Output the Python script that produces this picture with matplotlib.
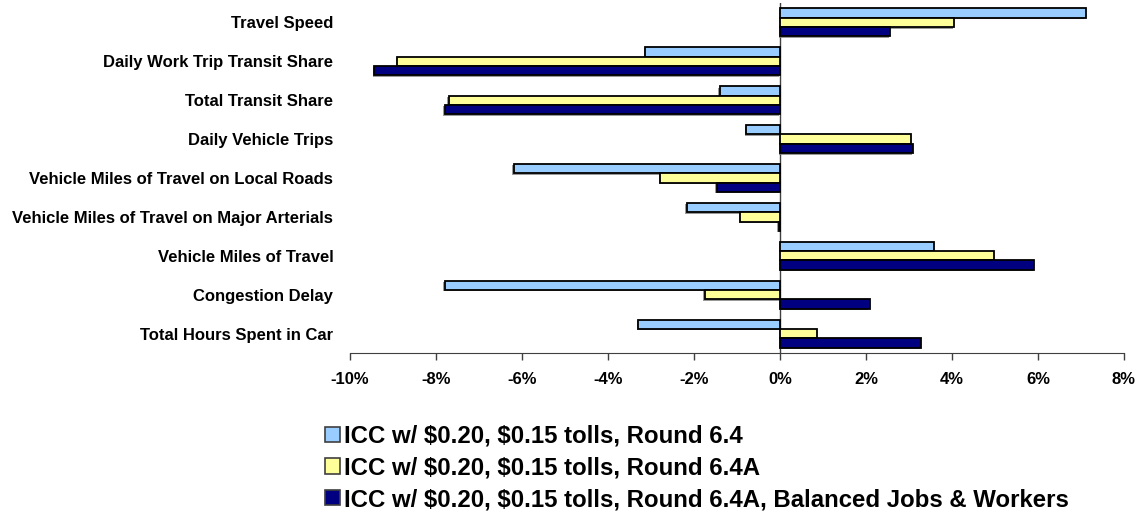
import numpy as np
import matplotlib.pyplot as plt
from matplotlib.patches import Patch
import matplotlib.patheffects as pe

plt.rcParams['font.family'] = ['Liberation Sans', 'DejaVu Sans']

# ----- data (percent change) -----
categories = [
    "Travel Speed",
    "Daily Work Trip Transit Share",
    "Total Transit Share",
    "Daily Vehicle Trips",
    "Vehicle Miles of Travel on Local Roads",
    "Vehicle Miles of Travel on Major Arterials",
    "Vehicle Miles of Travel",
    "Congestion Delay",
    "Total Hours Spent in Car",
]
round_64 = [7.11, -3.14, -1.40, -0.78, -6.19, -2.17, 3.58, -7.80, -3.30]
round_64a = [4.06, -8.90, -7.70, 3.06, -2.79, -0.93, 4.98, -1.75, 0.87]
round_64a_bal = [2.56, -9.43, -7.80, 3.10, -1.47, -0.03, 5.91, 2.09, 3.28]

series_labels = [
    r"ICC w/ \$0.20, \$0.15 tolls, Round 6.4",
    r"ICC w/ \$0.20, \$0.15 tolls, Round 6.4A",
    r"ICC w/ \$0.20, \$0.15 tolls, Round 6.4A, Balanced Jobs & Workers",
]
colors = ["#99CCFF", "#FFFF99", "#000080"]
xticks = np.arange(-10, 9, 2)

# ----- figure -----
fig = plt.figure(figsize=(11.41, 5.19), dpi=100)
ax = fig.add_axes([0.3067, 0.3198, 0.6783, 0.6744])

y = np.arange(len(categories))
h = 0.24
shadow = [pe.SimplePatchShadow(offset=(-1, -1), shadow_rgbFace="#808080", alpha=0.8), pe.Normal()]
for i, (vals, col) in enumerate(zip([round_64, round_64a, round_64a_bal], colors)):
    bars = ax.barh(y + (i - 1) * h, vals, height=h, color=col, edgecolor="black",
                   linewidth=1.3, label=series_labels[i], zorder=3)
    for b in bars:
        b.set_path_effects(shadow)

ax.set_ylim(len(categories) - 0.5, -0.5)
ax.set_xlim(-10, 8)
ax.set_xticks(xticks)
ax.set_xticklabels([f"{v}%" for v in xticks], fontsize=12, fontweight="bold")
ax.set_yticks(y)
ax.set_yticklabels(categories, fontsize=12, fontweight="bold")
ax.tick_params(axis="y", length=0, pad=12)
ax.tick_params(axis="x", direction="out", length=5, width=1, color="#404040", pad=9)

for s in ["top", "right", "left"]:
    ax.spines[s].set_visible(False)
ax.spines["bottom"].set_color("#404040")
ax.axvline(0, color="#404040", linewidth=1, zorder=2)

handles = [Patch(facecolor=c, edgecolor="#404040", linewidth=1.2) for c in colors]
fig.legend(handles, series_labels, loc="center left", bbox_to_anchor=(0.266, 0.0983),
           frameon=False, prop={"size": 17.3, "weight": "bold"},
           handlelength=0.6, handleheight=0.6, handletextpad=0.2, labelspacing=0.36)

fig.savefig("out.png", dpi=100)
